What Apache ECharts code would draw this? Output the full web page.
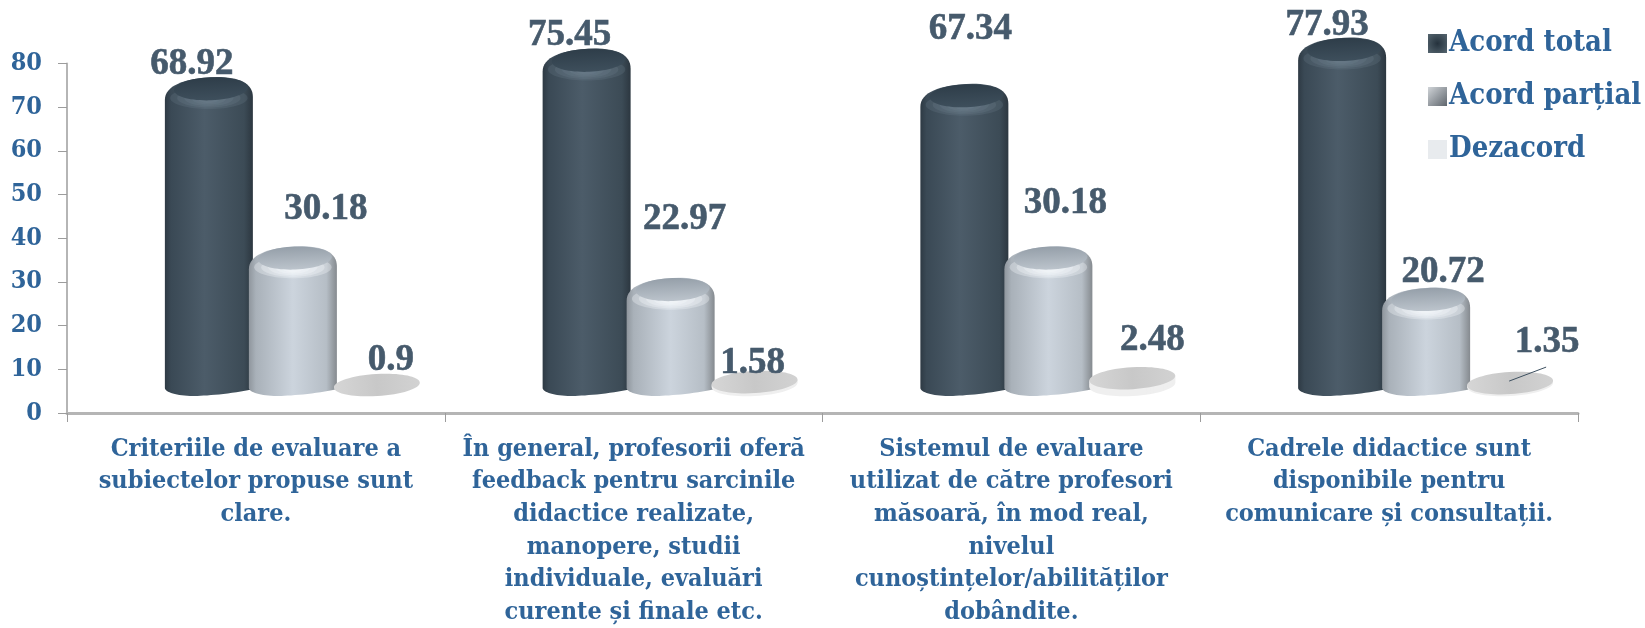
<!DOCTYPE html>
<html><head><meta charset="utf-8">
<style>html,body{margin:0;padding:0;background:#fff}#c{width:1645px;height:628px}</style>
<script src="https://cdn.jsdelivr.net/npm/echarts@6/dist/echarts.min.js"></script>
</head><body><div id="c"></div>
<script>
const categories = [
  "Criteriile de evaluare a\nsubiectelor propuse sunt\nclare.",
  "În general, profesorii oferă\nfeedback pentru sarcinile\ndidactice realizate,\nmanopere, studii\nindividuale, evaluări\ncurente și finale etc.",
  "Sistemul de evaluare\nutilizat de către profesori\nmăsoară, în mod real,\nnivelul\ncunoștințelor/abilităților\ndobândite.",
  "Cadrele didactice sunt\ndisponibile pentru\ncomunicare și consultații."
];
const seriesNames = ["Acord total", "Acord parțial", "Dezacord"];
const acordTotal = [68.92, 75.45, 67.34, 77.93];
const acordPartial = [30.18, 22.97, 30.18, 20.72];
const dezacord = [0.9, 1.58, 2.48, 1.35];
const yTicks = { min: 0, max: 80, interval: 10 };

// label offsets from the top-centre of each mark (layout only)
const labelOffsetX = [[-17,-17,6,-15],[33,14,17,17],[14,-2,20,37]];
const labelOffsetY = [[-12,-13,-54,-12],[-37,-58,-43,-15],[-14,-8,-27,-30]];

const BLUE = '#2f6499', LABEL = '#465a6c';
const CAT_FONT = '"DejaVu Serif Condensed","DejaVu Serif",serif';
const SHIFT = [-47, 37, 121], W = 88, LIFT = 35, FOOT = 17;

const looks = [
  {side:[[0,'#2e3a44'],[0.07,'#3a4955'],[0.45,'#4c5c69'],[0.9,'#3c4b56'],[1,'#2c3740']],
   capTop:'#2e3d49', capBottom:'#3e4f5c', glow:'rgba(116,134,146,0.22)'},
  {side:[[0,'#8f969d'],[0.08,'#a9b1b9'],[0.5,'#ccd4dd'],[0.88,'#b6bec6'],[1,'#858a8f']],
   capTop:'#959fa9', capBottom:'#bcc4cc', glow:'rgba(246,249,252,0.32)'}
];

function cylinder(x, top, foot, look){
  const x0 = x - W/2, x1 = x + W/2;
  const d = `M${x0} ${top+23}C${x0} ${top+9} ${x0+18} ${top+1} ${x0+52} ${top}`
    + `C${x1-14} ${top} ${x1} ${top+6} ${x1} ${top+20}L${x1} ${foot-7}`
    + `C${x1-20} ${foot-2} ${x1-50} ${foot} ${x0+28} ${foot}`
    + `C${x0+12} ${foot} ${x0} ${foot-4} ${x0} ${foot-8}Z`;
  const out = [
    {type:'path', shape:{pathData:d, layout:'cover', x:x0, y:top, width:W, height:foot-top},
      style:{fill:{type:'linear',x:0,y:0,x2:1,y2:0,colorStops:look.side.map(s=>({offset:s[0],color:s[1]}))}}}
  ];
  [[0.44,11],[0.36,9.5],[0.28,8],[0.2,6.5],[0.13,5]].forEach(g => {
    out.push({type:'ellipse', shape:{cx:x,cy:top+21,rx:W*g[0],ry:g[1]}, style:{fill:look.glow}});
  });
  out.push({type:'ellipse', shape:{cx:x+2,cy:top+12,rx:W*0.42,ry:11.5}, rotation:0.04, originX:x, originY:top+12,
    style:{fill:{type:'linear',x:0,y:0,x2:0,y2:1,colorStops:[{offset:0,color:look.capTop},{offset:1,color:look.capBottom}]}}});
  return out;
}

function disc(x, top, foot){
  const rimY = foot - 11, faceY = top + 11, out = [];
  for (let y = rimY; y > faceY; y--) {
    out.push({type:'ellipse', shape:{cx:x,cy:y,rx:43,ry:11}, rotation:0.06, originX:x, originY:y,
      style:{fill:'#efefef'}});
  }
  out.push({type:'ellipse', shape:{cx:x,cy:faceY,rx:43,ry:11}, rotation:0.06, originX:x, originY:faceY,
    style:{fill:{type:'linear',x:0,y:0,x2:1,y2:0,colorStops:[{offset:0,color:'#d6d6d6'},{offset:0.5,color:'#c8c8c8'},{offset:1,color:'#d2d2d2'}]}}});
  return out;
}

function makeRender(si){
  return function(params, api){
    const ci = api.value(0), v = api.value(1);
    const p = api.coord([ci, v]), base = api.coord([ci, 0]);
    const x = p[0] + SHIFT[si], top = p[1] - LIFT, foot = base[1] - FOOT;
    const kids = si < 2 ? cylinder(x, top, foot, looks[si]) : disc(x, top, foot);
    if (si === 2 && ci === 3) {
      kids.push({type:'line', shape:{x1:x-1,y1:top+9,x2:x+36,y2:top-5}, style:{stroke:'#3d5060',lineWidth:1}});
    }
    kids.push({type:'text', style:{text:String(v), x:x+labelOffsetX[si][ci], y:top+labelOffsetY[si][ci],
      align:'center', verticalAlign:'middle', fill:LABEL, stroke:LABEL, lineWidth:0.6,
      fontSize:37, fontWeight:'bold', fontFamily:'"Liberation Serif","Times New Roman",serif'}});
    return {type:'group', children:kids};
  };
}

const seriesData = [acordTotal, acordPartial, dezacord];
const chart = echarts.init(document.getElementById('c'), null, {renderer:'canvas'});
chart.setOption({
  animation:false,
  backgroundColor:'#fff',
  grid:{left:67,right:67,top:63.5,bottom:215,containLabel:false,outerBoundsMode:'none'},
  legend:{
    orient:'vertical', left:1423, top:24, itemWidth:19, itemHeight:19, itemGap:24, icon:'rect',
    textStyle:{color:BLUE,fontFamily:CAT_FONT,fontWeight:'bold',fontSize:29,padding:[0,0,0,-3]},
    data:[
      {name:seriesNames[0],itemStyle:{color:{type:'radial',x:0.5,y:0.5,r:0.7,colorStops:[{offset:0,color:'#25323d'},{offset:1,color:'#55656f'}]}}},
      {name:seriesNames[1],itemStyle:{color:{type:'linear',x:0,y:0,x2:1,y2:1,colorStops:[{offset:0,color:'#d0d4d8'},{offset:1,color:'#5f666d'}]}}},
      {name:seriesNames[2],itemStyle:{color:'#e8ebee'}}
    ]
  },
  xAxis:{
    type:'category', data:categories, boundaryGap:true,
    axisLine:{lineStyle:{color:'#b5b5b5',width:3}},
    axisTick:{show:true,length:9,lineStyle:{color:'#9c9c9c',width:1}},
    axisLabel:{interval:0,margin:20,color:BLUE,fontFamily:CAT_FONT,fontWeight:'bold',fontSize:25,lineHeight:32.6,align:'center',verticalAlign:'top'}
  },
  yAxis:{
    type:'value', min:yTicks.min, max:yTicks.max, interval:yTicks.interval,
    splitLine:{show:false},
    axisLine:{show:true,lineStyle:{color:'#b5b5b5',width:2}},
    axisTick:{show:true,length:9,lineStyle:{color:'#9c9c9c',width:1}},
    axisLabel:{margin:25,color:BLUE,fontFamily:CAT_FONT,fontWeight:'bold',fontSize:25}
  },
  series:seriesData.map((vals,si)=>({
    type:'custom', name:seriesNames[si], renderItem:makeRender(si), clip:false,
    encode:{x:0,y:1},
    data:vals.map((v,i)=>[i,v]),
    itemStyle:{color:['#37464f','#9aa3ab','#e8ebee'][si]},
    z:2+si
  }))
});
</script></body></html>
